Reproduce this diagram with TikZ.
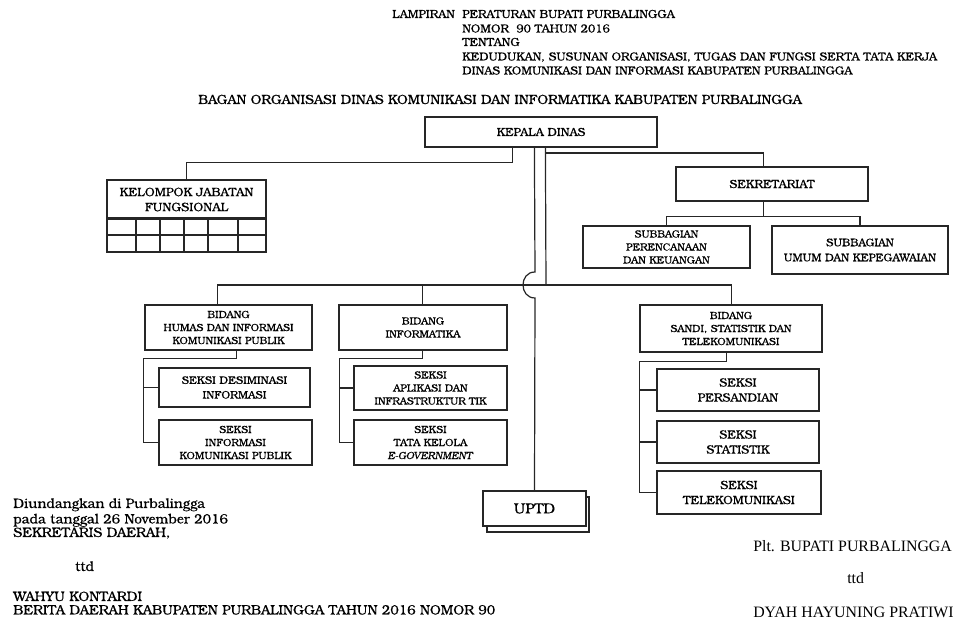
\documentclass[tikz,border=0pt]{standalone}
\usepackage{fontspec}
\setmainfont{TeX Gyre Bonum}[FakeBold=0.3]
\newfontfamily\timesf{Liberation Serif}
\tikzset{
  box/.style={draw=black!85, line width=0.9pt, inner sep=0pt, align=center,
    font=\fontsize{7.8}{9.75}\selectfont},
  bigbox/.style={font=\fontsize{9}{11.25}\selectfont},
  conn/.style={draw=black!85, line width=0.9pt},
  hdr/.style={anchor=base west, inner sep=0pt, font=\fontsize{8.8}{9}\selectfont},
  ftr/.style={anchor=base west, inner sep=0pt, font=\fontsize{10.2}{11}\selectfont},
  ftrr/.style={anchor=base west, inner sep=0pt, font=\timesf\fontsize{11.9}{12}\selectfont}
}
% #1 extra style, #2 name, #3 x1, #4 y1, #5 x2, #6 y2, #7 text
\newcommand{\orgbox}[7][]{\node[box,#1, minimum width={(#5-#3)*0.75pt},
  minimum height={(#6-#4)*0.75pt}] (#2) at ({(#3+#5)/2},{(#4+#6)/2}) {#7};}
\begin{document}
\begin{tikzpicture}[x=0.75pt,y=-0.75pt]
\useasboundingbox (0,0) rectangle (965,623);
% header
\node[hdr] (lamp) at (392,18) {LAMPIRAN};
\node[hdr] (h1) at (462,18) {PERATURAN BUPATI PURBALINGGA};
\node[hdr] (h2) at (462,32.5) {NOMOR\ \ 90 TAHUN 2016};
\node[hdr] (h3) at (462,46) {TENTANG};
\node[hdr] (h4) at (462,60.5) {KEDUDUKAN, SUSUNAN ORGANISASI, TUGAS DAN FUNGSI SERTA TATA KERJA};
\node[hdr] (h5) at (462,74.5) {DINAS KOMUNIKASI DAN INFORMASI KABUPATEN PURBALINGGA};
\node[anchor=base, inner sep=0pt, font=\fontsize{10}{11}\selectfont] (title) at (500,104)
  {BAGAN ORGANISASI DINAS KOMUNIKASI DAN INFORMATIKA KABUPATEN PURBALINGGA};
% boxes
\orgbox[font=\fontsize{8.8}{11}\selectfont]{kepala}{425}{117}{657}{147}{KEPALA DINAS}
\orgbox[font=\fontsize{9.2}{11.25}\selectfont]{kjf}{107}{180}{266}{219}{KELOMPOK JABATAN\\FUNGSIONAL}
\orgbox{kjfgrid}{107}{219}{266}{252}{}
\draw[line width=1.8pt, black!85] (kjfgrid.north west) -- (kjfgrid.north east);
\draw[conn] (107,235) -- (266,235);
\foreach \cx in {136,160,184,208,238} \draw[conn] (\cx,219) -- (\cx,252);
\orgbox[font=\fontsize{8.9}{11}\selectfont]{sekr}{676}{167}{868}{201}{SEKRETARIAT}
\orgbox{sub1}{583}{226}{750}{268}{SUBBAGIAN\\PERENCANAAN\\DAN KEUANGAN}
\orgbox[font=\fontsize{8.3}{11.25}\selectfont]{sub2}{772}{226}{948}{274}{SUBBAGIAN\\UMUM DAN KEPEGAWAIAN}
\orgbox{humas}{145}{305}{312}{350}{BIDANG\\HUMAS DAN INFORMASI\\KOMUNIKASI PUBLIK}
\orgbox[line width=1.3pt, font=\fontsize{8.2}{11}\selectfont]{desim}{159}{368}{310}{407}{SEKSI DESIMINASI\\INFORMASI}
\orgbox{infkom}{159}{420}{312}{465}{SEKSI\\INFORMASI\\KOMUNIKASI PUBLIK}
\orgbox{informatika}{339}{305}{507}{350}{BIDANG\\INFORMATIKA}
\orgbox{aplikasi}{354}{366}{507}{410}{SEKSI\\APLIKASI DAN\\INFRASTRUKTUR TIK}
\orgbox{tatakelola}{354}{420}{507}{465}{SEKSI\\TATA KELOLA\\\textit{E-GOVERNMENT}}
\orgbox{sandi}{640}{305}{822}{352}{BIDANG\\SANDI, STATISTIK DAN\\TELEKOMUNIKASI}
\orgbox[bigbox]{persandian}{657}{369}{819}{411}{SEKSI\\PERSANDIAN}
\orgbox[bigbox]{statistik}{657}{421}{819}{463}{SEKSI\\STATISTIK}
\orgbox[bigbox]{telekom}{657}{471}{821}{514}{SEKSI\\TELEKOMUNIKASI}
\orgbox{uptdsh}{487}{497}{589}{532}{}
\orgbox[fill=white, font=\fontsize{11}{12}\selectfont]{uptd}{483}{491}{586}{526}{UPTD}
% connectors
\coordinate (hub) at (546,285);
\draw[conn] ([xshift=88*0.75pt]kepala.south west) -- ++(0,15) -| (kjf.north);
\draw[conn] ([xshift=110*0.75pt]kepala.south west) -- (535,272)
  .. controls (519,272) and (519,298) .. (535,298) -- (uptd.north);
\draw[conn] ([xshift=121*0.75pt]kepala.south west) -- (hub);
\draw[conn] (546,153) -| ([xshift=88*0.75pt]sekr.north west);
\draw[conn] ([xshift=88*0.75pt]sekr.south west) -- ++(0,15) coordinate (sj);
\draw[conn] (sub1.north) |- (sj) -| (sub2.north);
\draw[conn] ([xshift=73*0.75pt]humas.north west) |- (hub) -| ([xshift=92*0.75pt]sandi.north west);
\draw[conn] ([xshift=84*0.75pt]informatika.north west) -- ++(0,-20);
\draw[conn] ([xshift=92*0.75pt]humas.south west) -- ++(0,8) -| ([xshift=-15*0.75pt]infkom.west) -- (infkom.west);
\draw[conn] (desim.west) -- ++(-15,0);
\draw[conn] ([xshift=84*0.75pt]informatika.south west) -- ++(0,8) -| ([xshift=-14*0.75pt]tatakelola.west) -- (tatakelola.west);
\draw[conn] (aplikasi.west) -- ++(-14,0);
\draw[conn] ([xshift=87*0.75pt]sandi.south west) -- ++(0,9) -| ([xshift=-17*0.75pt]telekom.west) -- (telekom.west);
\draw[conn] (persandian.west) -- ++(-17,0);
\draw[conn] (statistik.west) -- ++(-17,0);
% footer
\node[ftr] (f1) at (13,508) {Diundangkan di Purbalingga};
\node[ftr] (f2) at (13,523.5) {pada tanggal 26 November 2016};
\node[ftr] (f3) at (13,537) {SEKRETARIS DAERAH,};
\node[ftr] (f4) at (75,571) {ttd};
\node[ftr] (f5) at (13,601) {WAHYU KONTARDI};
\node[ftr] (f6) at (13,614.5) {BERITA DAERAH KABUPATEN PURBALINGGA TAHUN 2016 NOMOR 90};
\node[ftrr] (r1) at (753,552) {Plt. BUPATI PURBALINGGA};
\node[ftrr] (r2) at (847,584) {ttd};
\node[ftrr] (r3) at (753,617.5) {DYAH HAYUNING PRATIWI};
\end{tikzpicture}
\end{document}
